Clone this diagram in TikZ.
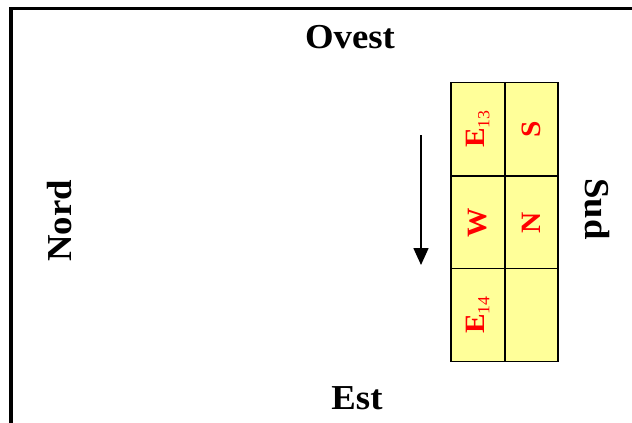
\documentclass[tikz,border=0pt]{standalone}
\usepackage{fontspec}
\setmainfont{Liberation Serif}
\usetikzlibrary{arrows.meta}
\definecolor{cellyellow}{RGB}{255,255,153}
\definecolor{cellred}{RGB}{255,0,0}
\tikzset{
  cell/.style={draw=black, fill=cellyellow, line width=1.8pt, minimum width=53.5pt, minimum height=93pt, inner sep=0pt, text=cellred, font=\fontsize{28}{28}\selectfont\bfseries},
  dirlabel/.style={inner sep=0pt, font=\fontsize{35}{35}\selectfont\bfseries},
}
\newcommand{\hw}[1]{\scalebox{1.05}[1]{#1}}
\newcommand{\sbs}[1]{\raisebox{-4.5pt}{\fontsize{17}{17}\selectfont\mdseries #1}}
\begin{document}
\begin{tikzpicture}[x=1pt,y=-1pt]
\useasboundingbox (0,0) rectangle (632,423);
\fill[white] (0,0) rectangle (632,423);
% frame
\draw[line width=3.4pt] (11,430) -- (11,8.5) -- (640,8.5);
% labels
\node[dirlabel] (ovest) at (350,37.5) {\hw{Ovest}};
\node[dirlabel] (est) at (357,398) {\hw{Est}};
\node[dirlabel, rotate=90] (nord) at (59.5,221) {\hw{Nord}};
\node[dirlabel, rotate=-90] (sud) at (597,209) {\hw{Sud}};
% grid cells
\node[cell] (c11) at (478,129) {\rotatebox{90}{\hw{E\sbs{13}}}};
\node[cell] (c12) at (531.5,129) {\rotatebox{90}{\hw{S}}};
\node[cell] (c21) at (478,222.5) {\rotatebox{90}{\hw{W}}};
\node[cell] (c22) at (531.5,222.5) {\rotatebox{90}{\hw{N}}};
\node[cell] (c31) at (478,315) {\rotatebox{90}{\hw{E\sbs{14}}}};
\node[cell] (c32) at (531.5,315) {};
% arrow
\coordinate (a1) at (421,135);
\coordinate (a2) at (421,265);
\draw[line width=1.6pt, -{Triangle[width=15pt,length=17pt]}] (a1) -- (a2);
\end{tikzpicture}
\end{document}
